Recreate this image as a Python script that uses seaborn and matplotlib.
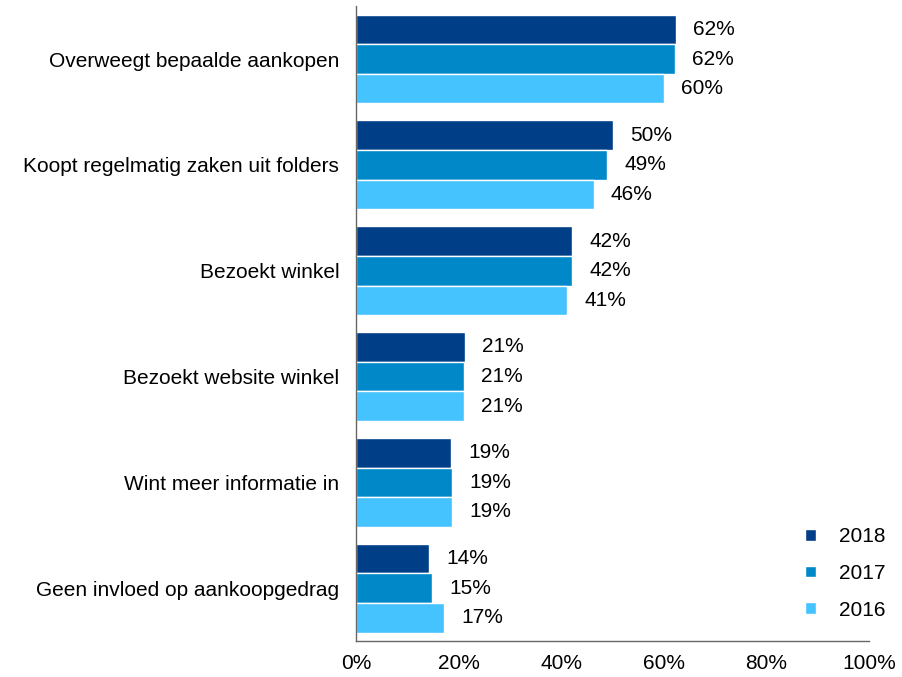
import matplotlib
matplotlib.use("Agg")
import matplotlib.pyplot as plt
import seaborn as sns
import pandas as pd
import numpy as np

categories = [
    "Overweegt bepaalde aankopen",
    "Koopt regelmatig zaken uit folders",
    "Bezoekt winkel",
    "Bezoekt website winkel",
    "Wint meer informatie in",
    "Geen invloed op aankoopgedrag",
]
years = ["2018", "2017", "2016"]
values_2018 = [62.4, 50.0, 42.2, 21.2, 18.6, 14.3]
values_2017 = [62.2, 49.0, 42.2, 21.0, 18.8, 14.9]
values_2016 = [60.0, 46.3, 41.2, 21.0, 18.8, 17.1]
colors = ["#003F87", "#0088C8", "#45C3FF"]

df = pd.DataFrame({
    "category": categories * 3,
    "year": [y for y in years for _ in categories],
    "value": values_2018 + values_2017 + values_2016,
})

sns.set_style("white")
plt.rcParams["font.family"] = ["Liberation Sans", "DejaVu Sans"]
plt.rcParams["text.color"] = "black"
plt.rcParams["xtick.labelcolor"] = "black"
plt.rcParams["ytick.labelcolor"] = "black"

fig = plt.figure(figsize=(9.02, 6.77), dpi=100)
ax = fig.add_axes([0.3947, 0.053, 0.5687, 0.938])

sns.barplot(data=df, x="value", y="category", hue="year", orient="h",
            palette=colors, width=0.84, edgecolor="white", linewidth=1,
            saturation=1, ax=ax, legend=True)

for cont in ax.containers:
    ax.bar_label(cont, fmt="{:.0f}%", padding=12.5, fontsize=15, color="black")

ax.set_xlim(0, 100)
ax.set_ylim(len(categories) - 0.5, -0.5)
ax.set_xticks(np.arange(0, 101, 20))
ax.set_xticklabels([f"{t}%" for t in range(0, 101, 20)], fontsize=15)
ax.set_yticks(range(len(categories)))
ax.set_yticklabels(categories, fontsize=15)
ax.set_yticks(np.arange(-0.5, len(categories), 1), minor=True)
ax.tick_params(axis="y", which="major", length=0, pad=12)
ax.tick_params(axis="y", which="minor", length=4.5, width=1, color="#555555", direction="out")
ax.tick_params(axis="x", length=4, width=1, color="#555555", direction="out", pad=5)
ax.set_xlabel("")
ax.set_ylabel("")

for side in ["top", "right"]:
    ax.spines[side].set_visible(False)
for side in ["left", "bottom"]:
    ax.spines[side].set_color("#666666")
    ax.spines[side].set_linewidth(1)

handles, labels = ax.get_legend_handles_labels()
ax.legend(handles, labels, loc="upper left", bbox_to_anchor=(0.872, 0.249),
          bbox_transform=fig.transFigure, frameon=False, fontsize=15,
          handlelength=0.5, handleheight=0.5, handletextpad=1.1,
          labelspacing=0.85)

fig.savefig("out.png", dpi=100)
